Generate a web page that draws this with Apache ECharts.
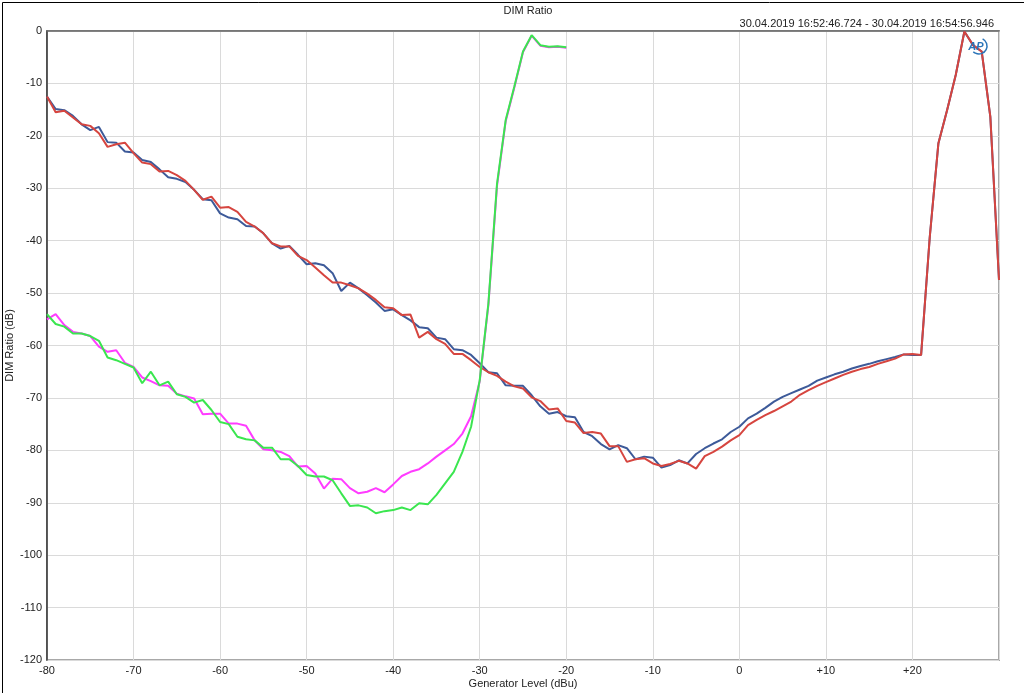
<!DOCTYPE html>
<html>
<head>
<meta charset="utf-8">
<script src="https://cdn.jsdelivr.net/npm/echarts@6/dist/echarts.min.js"></script>
<style>
html,body{margin:0;padding:0;background:#fff;}
#chart{width:1024px;height:693px;}
</style>
</head>
<body>
<div id="chart"></div>
<script>
// Generator level (dBu) for the two long sweeps and the two short sweeps
const xLong = [];
for (let v = -80; v <= 30; v++) xLong.push(v);
const xShort = [];
for (let v = -80; v <= -20; v++) xShort.push(v);

const xTicks = [-80, -70, -60, -50, -40, -30, -20, -10, 0, 10, 20];

const blueVals = [
  -12.5, -14.9, -15.1, -16.2, -17.8, -18.9, -18.3, -21.2, -21.3, -23.0,
  -23.2, -24.6, -25.0, -26.4, -27.9, -28.2, -28.8, -30.3, -32.1, -32.3,
  -34.8, -35.6, -35.9, -37.2, -37.3, -38.6, -40.5, -41.5, -41.0, -42.7,
  -44.5, -44.3, -44.7, -46.2, -49.6, -48.0, -49.1, -50.4, -51.8, -53.4,
  -53.1, -54.2, -55.2, -56.5, -56.7, -58.5, -58.8, -60.7, -60.9, -61.8,
  -63.4, -65.1, -65.3, -67.6, -67.7, -67.7, -69.5, -71.6, -73.0, -72.7,
  -73.5, -73.7, -76.5, -77.3, -78.8, -79.8, -79.0, -79.6, -81.7, -81.2,
  -81.4, -83.3, -82.8, -81.9, -82.5, -80.7, -79.6, -78.7, -77.9, -76.5,
  -75.5, -73.9, -73.0, -71.9, -70.7, -69.8, -69.1, -68.4, -67.7, -66.7,
  -66.1, -65.5, -65.0, -64.4, -63.9, -63.5, -63.0, -62.6, -62.2, -61.7,
  -61.8, -61.8, -39.3, -21.4, -15.1, -8.4, -0.1, -2.7, -3.9, -16.4,
  -47.5
];
const redVals = [
  -12.5, -15.5, -15.2, -16.5, -17.8, -18.1, -19.5, -22.1, -21.6, -21.3,
  -23.3, -25.1, -25.4, -26.8, -26.7, -27.5, -28.6, -30.3, -32.2, -31.6,
  -33.7, -33.6, -34.5, -36.4, -37.3, -38.6, -40.5, -41.1, -41.1, -42.9,
  -43.7, -45.1, -46.6, -48.0, -48.0, -48.5, -49.1, -50.1, -51.3, -52.7,
  -52.9, -54.2, -54.1, -58.5, -57.4, -58.8, -59.7, -61.6, -61.6, -62.8,
  -64.1, -65.1, -65.8, -66.9, -67.8, -68.2, -69.9, -70.6, -72.2, -72.0,
  -74.4, -74.7, -76.7, -76.5, -76.8, -79.2, -79.2, -82.2, -81.7, -81.5,
  -82.5, -83.0, -82.6, -82.0, -82.5, -83.5, -81.1, -80.3, -79.3, -78.1,
  -77.1, -75.2, -74.2, -73.3, -72.5, -71.6, -70.7, -69.4, -68.5, -67.7,
  -67.0, -66.3, -65.6, -65.0, -64.5, -64.1, -63.5, -63.0, -62.5, -61.7,
  -61.6, -61.8, -39.3, -21.4, -15.1, -8.4, -0.1, -2.7, -3.9, -16.4,
  -47.5
];
const magentaVals = [
  -55.0, -54.0, -56.1, -57.4, -57.7, -58.2, -60.2, -61.2, -60.9, -63.3,
  -64.1, -66.1, -66.8, -67.6, -67.7, -69.2, -69.7, -70.1, -73.1, -73.0,
  -73.0, -74.9, -74.9, -75.3, -78.1, -79.8, -80.0, -80.3, -81.1, -83.1,
  -83.0, -84.4, -87.3, -85.4, -85.5, -87.2, -88.2, -87.9, -87.2, -88.0,
  -86.5, -84.9, -84.1, -83.6, -82.5, -81.2, -80.0, -78.8, -76.8, -73.5,
  -66.8, -52.3, -29.5, -17.2, -10.8, -4.0, -0.9, -2.8, -3.1, -3.0,
  -3.2
];
const greenVals = [
  -54.0, -55.9, -56.4, -57.7, -57.7, -58.2, -59.1, -62.3, -62.8, -63.5,
  -64.2, -67.2, -65.0, -67.6, -66.9, -69.3, -69.8, -70.9, -70.4, -72.3,
  -74.6, -75.0, -77.4, -77.9, -78.1, -79.5, -79.5, -81.7, -81.7, -83.0,
  -84.7, -85.0, -85.0, -85.7, -88.2, -90.6, -90.5, -90.9, -92.0, -91.6,
  -91.4, -90.9, -91.4, -90.1, -90.3, -88.5, -86.3, -84.1, -80.3, -75.5,
  -66.6, -52.0, -29.1, -17.0, -10.6, -3.9, -0.8, -2.7, -3.0, -2.9,
  -3.1
];

const pairs = (xs, ys) => xs.map((x, i) => [x, ys[i]]);
const FONT = 'Liberation Sans';

const chart = echarts.init(document.getElementById('chart'), null, {renderer: 'canvas'});
const mk = (name, xs, ys, color) => ({
  name: name, type: 'line', data: pairs(xs, ys), showSymbol: false, symbol: 'none',
  lineStyle: {color: color, width: 2}, itemStyle: {color: color}, animation: false, clip: true
});

chart.setOption({
  animation: false,
  backgroundColor: '#ffffff',
  title: [
    {text: 'DIM Ratio', left: 523, top: 0, textAlign: 'center',
     textStyle: {fontFamily: FONT, fontSize: 11, fontWeight: 'normal', color: '#222'}},
    {text: '30.04.2019 16:52:46.724 - 30.04.2019 16:54:56.946', right: 25, top: 13,
     textStyle: {fontFamily: FONT, fontSize: 11, fontWeight: 'normal', color: '#222'}}
  ],
  grid: {left: 47, right: 25, top: 31, bottom: 33, show: true, borderColor: '#a8a8a8', borderWidth: 2,
         containLabel: false, outerBoundsMode: 'none'},
  xAxis: {
    type: 'value', min: -80, max: 30, interval: 10,
    name: 'Generator Level (dBu)', nameLocation: 'middle', nameGap: 18, nameMoveOverlap: false,
    nameTextStyle: {fontFamily: FONT, fontSize: 11, color: '#222'},
    axisLine: {show: true, lineStyle: {color: '#666', width: 1.5}},
    axisTick: {show: false},
    axisLabel: {fontFamily: FONT, fontSize: 11, color: '#222', margin: 5,
      formatter: v => (xTicks.indexOf(v) < 0 ? '' : (v > 0 ? '+' + v : String(v)))},
    splitLine: {show: true, lineStyle: {color: '#dadada', width: 1}}
  },
  yAxis: {
    type: 'value', min: -120, max: 0, interval: 10,
    name: 'DIM Ratio (dB)', nameLocation: 'middle', nameGap: 32, nameRotate: 90, nameMoveOverlap: false,
    nameTextStyle: {fontFamily: FONT, fontSize: 11, color: '#222'},
    axisLine: {show: true, onZero: false, lineStyle: {color: '#333', width: 1.5}},
    axisTick: {show: false},
    axisLabel: {fontFamily: FONT, fontSize: 11, color: '#222', margin: 5},
    splitLine: {show: true, lineStyle: {color: '#dadada', width: 1}}
  },
  series: [
    mk('Ch1', xLong, blueVals, '#3d5a99'),
    mk('Ch2', xLong, redVals, '#d6453f'),
    mk('Ch3', xShort, magentaVals, '#ff3cff'),
    mk('Ch4', xShort, greenVals, '#3ae64f')
  ],
  graphic: [
    {type: 'rect', left: 0, top: 0, shape: {x: 0.5, y: 0.5, width: 1023, height: 692},
     style: {fill: 'none', stroke: '#000', lineWidth: 1}, silent: true, z: 100},
    {type: 'arc', shape: {cx: 979, cy: 46, r: 8, startAngle: -Math.PI * 0.35, endAngle: Math.PI * 0.75},
     style: {fill: 'none', stroke: '#2a74b8', lineWidth: 1.5}, z: 50},
    {type: 'text', x: 976, y: 47, z: 51,
     style: {text: 'AP', fontFamily: FONT, fontSize: 11, fontWeight: 'bold', fontStyle: 'italic',
             fill: '#2a74b8', align: 'center', verticalAlign: 'middle'}}
  ]
});
</script>
</body>
</html>
